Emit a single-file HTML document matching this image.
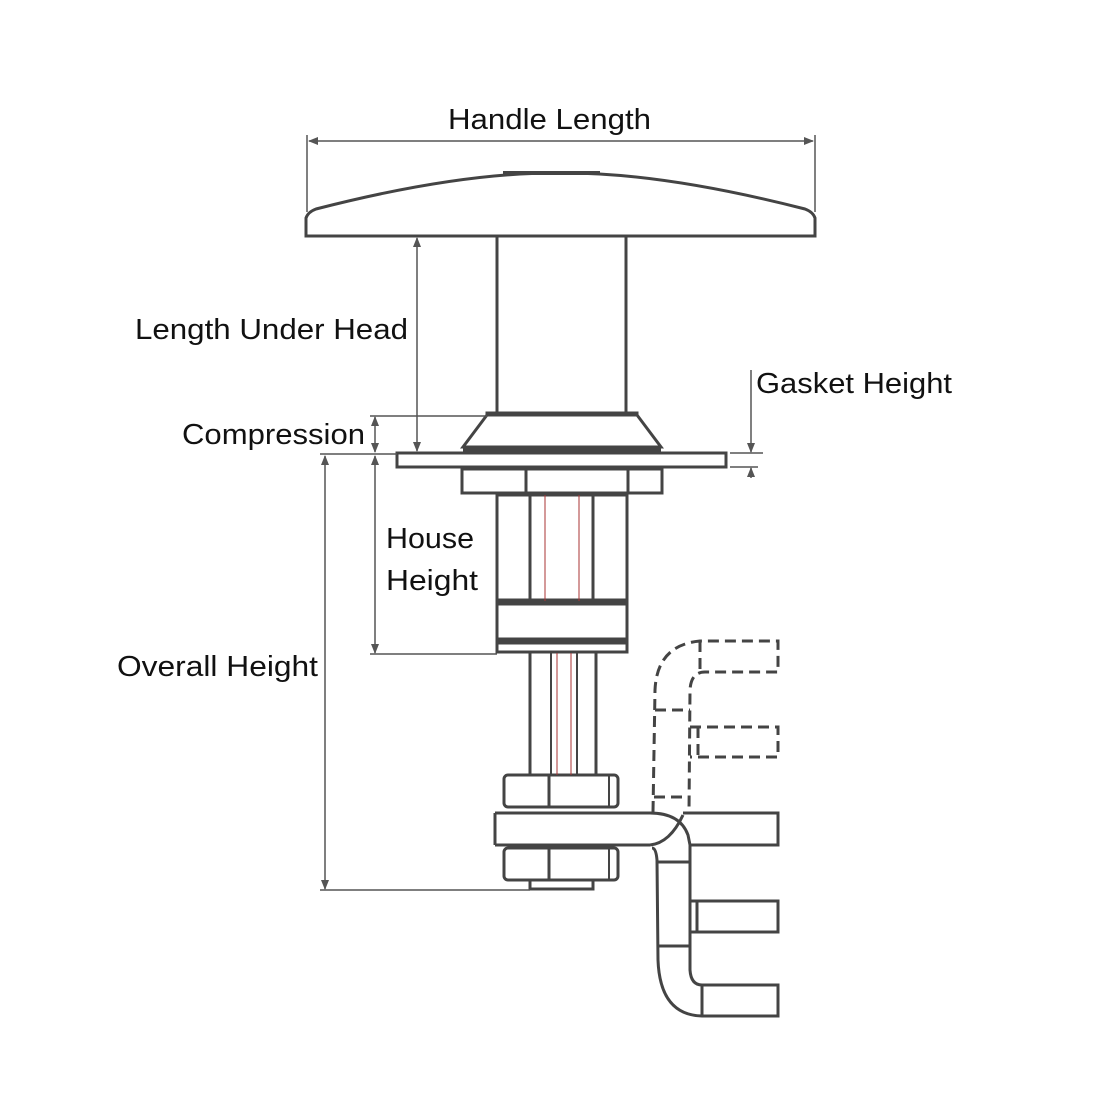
<!DOCTYPE html>
<html><head><meta charset="utf-8"><style>
html,body{margin:0;padding:0;background:#fff;width:1100px;height:1100px;overflow:hidden}
svg{display:block}
text{font-family:"Liberation Sans",sans-serif;font-size:29px;fill:#111}
</style></head><body>
<svg width="1100" height="1100" viewBox="0 0 1100 1100">
<defs>
<marker id="a" markerWidth="10" markerHeight="8" refX="9" refY="4" orient="auto-start-reverse" markerUnits="userSpaceOnUse">
<path d="M0,0 L10,4 L0,8 Z" fill="#555"/></marker>
</defs>
<g fill="none" stroke="#444" stroke-width="3">
<path d="M306,236 L306,218 Q308,212 316,209 Q460,172 560,173 Q660,172 805,209 Q813,212 815,218 L815,236 Z" fill="#fff"/>
<line x1="503" y1="173" x2="600" y2="173" stroke-width="4"/>
<line x1="497" y1="236" x2="497" y2="415"/>
<line x1="626" y1="236" x2="626" y2="415"/>
<rect x="487" y="413" width="150" height="3" fill="#444"/>
<path d="M487,415 L637,415 L661,447 L463,447 Z" fill="#fff"/>
<line x1="463" y1="450" x2="661" y2="450"/>
<rect x="397" y="453" width="329" height="14" fill="#fff"/>
<path d="M462,469 L662,469 L662,493 L462,493 Z" fill="#fff"/>
<line x1="526" y1="469" x2="526" y2="493"/>
<line x1="628" y1="469" x2="628" y2="493"/>
<rect x="497" y="495" width="130" height="157" fill="#fff"/>
<line x1="530" y1="495" x2="530" y2="601"/>
<line x1="593" y1="495" x2="593" y2="601"/>
<rect x="497" y="600" width="130" height="4" fill="#444"/>
<rect x="497" y="639" width="130" height="4" fill="#444"/>
<line x1="530" y1="653" x2="530" y2="775"/>
<line x1="596" y1="653" x2="596" y2="775"/>
<line x1="551" y1="653" x2="551" y2="775" stroke-width="2"/>
<line x1="577" y1="653" x2="577" y2="775" stroke-width="2"/>
<rect x="504" y="775" width="114" height="32" rx="4" fill="#fff"/>
<line x1="549" y1="775" x2="549" y2="807"/>
<line x1="609" y1="775" x2="609" y2="807" stroke-width="2"/>
<path d="M495,813 L650,813 Q680,813 688,835 L690,845 M650,845 L495,845 Z" fill="#fff"/>
<line x1="495" y1="813" x2="495" y2="845"/>
<path d="M650,845 Q670,843 683,815"/>
<rect x="504" y="848" width="114" height="32" rx="4" fill="#fff"/>
<line x1="549" y1="848" x2="549" y2="880"/>
<line x1="609" y1="848" x2="609" y2="880" stroke-width="2"/>
<rect x="530" y="880" width="63" height="9" fill="#fff"/>
<path d="M683,813 L778,813 L778,845 L690,845"/>
<path d="M652,848 Q656,848 657,860 L658,960 Q660,1015 702,1016 L778,1016 L778,985 L702,985 Q691,985 690,970 L690,845"/>
<line x1="657" y1="862" x2="690" y2="862"/>
<line x1="658" y1="946" x2="690" y2="946"/>
<path d="M690,901 L778,901 L778,932 L690,932"/>
<line x1="697" y1="901" x2="697" y2="932"/>
<line x1="702" y1="985" x2="702" y2="1016"/>
</g>
<g stroke="#a33" stroke-width="1">
<line x1="545" y1="495" x2="545" y2="601"/><line x1="579" y1="495" x2="579" y2="601"/>
<line x1="557" y1="653" x2="557" y2="775"/><line x1="571" y1="653" x2="571" y2="775"/>
</g>
<g fill="none" stroke="#444" stroke-width="3" stroke-dasharray="11,6">
<path d="M653,812 L655,690 Q657,645 700,641 L778,641 L778,672 L705,672 Q691,672 690,690 L689,812"/>
<line x1="700" y1="641" x2="700" y2="672"/>
<path d="M690,727 L778,727 L778,757 L690,757"/>
<line x1="698" y1="727" x2="698" y2="757"/>
<line x1="655" y1="710" x2="690" y2="710"/>
<line x1="654" y1="797" x2="689" y2="797"/>
</g>
<g stroke="#555" stroke-width="1.5" fill="none">
<line x1="307" y1="135" x2="307" y2="212"/><line x1="815" y1="135" x2="815" y2="212"/>
<line x1="309" y1="141" x2="813" y2="141" marker-start="url(#a)" marker-end="url(#a)"/>
<line x1="417" y1="238" x2="417" y2="451" marker-start="url(#a)" marker-end="url(#a)"/>
<line x1="370" y1="416" x2="487" y2="416"/>
<line x1="320" y1="454" x2="397" y2="454"/>
<line x1="375" y1="417" x2="375" y2="452" marker-start="url(#a)" marker-end="url(#a)"/>
<line x1="325" y1="456" x2="325" y2="889" marker-start="url(#a)" marker-end="url(#a)"/>
<line x1="320" y1="890" x2="530" y2="890"/>
<line x1="375" y1="456" x2="375" y2="653" marker-start="url(#a)" marker-end="url(#a)"/>
<line x1="370" y1="654" x2="497" y2="654"/>
<line x1="751" y1="370" x2="751" y2="452" marker-end="url(#a)"/>
<line x1="730" y1="453" x2="763" y2="453"/>
<line x1="730" y1="467" x2="758" y2="467"/>
<line x1="751" y1="478" x2="751" y2="468" marker-end="url(#a)"/>
</g>
<text x="448" y="129" textLength="203" lengthAdjust="spacingAndGlyphs">Handle Length</text>
<text x="135" y="339" textLength="273" lengthAdjust="spacingAndGlyphs">Length Under Head</text>
<text x="756" y="393" textLength="196" lengthAdjust="spacingAndGlyphs">Gasket Height</text>
<text x="182" y="444" textLength="183" lengthAdjust="spacingAndGlyphs">Compression</text>
<text x="386" y="548" textLength="88" lengthAdjust="spacingAndGlyphs">House</text>
<text x="386" y="590" textLength="92" lengthAdjust="spacingAndGlyphs">Height</text>
<text x="117" y="676" textLength="201" lengthAdjust="spacingAndGlyphs">Overall Height</text>
</svg>
</body></html>
